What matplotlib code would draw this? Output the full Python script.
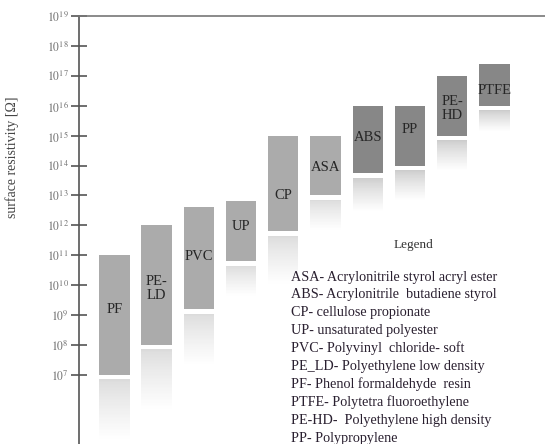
import numpy as np
import matplotlib
matplotlib.use("Agg")
import matplotlib.pyplot as plt
from matplotlib.ticker import FixedLocator, FuncFormatter, NullLocator

# ---- data (exponents of surface resistivity in Ohm) ----
materials = ["PF", "PE-LD", "PVC", "UP", "CP", "ASA", "ABS", "PP", "PE-HD", "PTFE"]
bar_labels = ["PF", "PE-\nLD", "PVC", "UP", "CP", "ASA", "ABS", "PP", "PE-\nHD", "PTFE"]
low_exp = [7.0, 8.0, 9.2, 10.8, 11.8, 13.0, 13.75, 14.0, 15.0, 16.0]
high_exp = [11.0, 12.0, 12.6, 12.8, 15.0, 15.0, 16.0, 16.0, 17.0, 17.4]
label_exp = [9.2, 9.9, 10.95, 11.95, 13.0, 13.95, 14.95, 15.2, 15.9, 16.5]
dark = [False, False, False, False, False, False, True, True, True, True]
tick_exps = list(range(7, 20))
legend_title = "Legend"
legend_lines = [
    "ASA- Acrylonitrile styrol acryl ester",
    "ABS- Acrylonitrile  butadiene styrol",
    "CP- cellulose propionate",
    "UP- unsaturated polyester",
    "PVC- Polyvinyl  chloride- soft",
    "PE_LD- Polyethylene low density",
    "PF- Phenol formaldehyde  resin",
    "PTFE- Polytetra fluoroethylene",
    "PE-HD-  Polyethylene high density",
    "PP- Polypropylene",
]

plt.rcParams["font.family"] = ["Liberation Serif", "DejaVu Serif"]
plt.rcParams["mathtext.fontset"] = "stix"

W, H = 545, 444
fig = plt.figure(figsize=(W / 100, H / 100), dpi=100)
ax = fig.add_axes([79 / W, 0.0, 1 - 79 / W, 1 - 16 / H])
ax.set_yscale("log")
ax.set_ylim(10 ** 4.69, 1e19)
ax.set_xlim(-0.84, 10.2)

x = np.arange(len(materials))
width = 0.72
light_c = "#ababab"
dark_c = "#878787"

for i in range(len(materials)):
    lo, hi = low_exp[i], high_exp[i]
    col = dark_c if dark[i] else light_c
    ax.bar(x[i], 10 ** hi - 10 ** lo, bottom=10 ** lo, width=width,
           color=col, edgecolor="none", zorder=3)
    # fading reflection below the bar
    span = hi - lo
    gap = 0.15
    refl = 0.5 * span
    n = 40
    top = lo - gap
    base_rgb = np.array([0.86, 0.86, 0.86]) if not dark[i] else np.array([0.80, 0.80, 0.80])
    for k in range(n):
        t0 = top - refl * k / n
        t1 = top - refl * (k + 1) / n
        f = k / n
        c = base_rgb + (1 - base_rgb) * f ** 0.8
        ax.bar(x[i], 10 ** t0 - 10 ** t1, bottom=10 ** t1, width=width,
               color=tuple(c), edgecolor="none", zorder=2)
    ax.text(x[i], 10 ** label_exp[i], bar_labels[i], ha="center", va="center",
            fontsize=10.5, color="#262626", zorder=4, linespacing=1.1)

# axes styling
for s in ["right", "bottom"]:
    ax.spines[s].set_visible(False)
ax.spines["left"].set_color("#555555")
ax.spines["top"].set_color("#777777")
ax.spines["left"].set_linewidth(1.2)
ax.spines["top"].set_linewidth(1.2)
ax.xaxis.set_major_locator(NullLocator())
ax.yaxis.set_major_locator(FixedLocator([10.0 ** e for e in tick_exps]))
ax.yaxis.set_minor_locator(NullLocator())
ax.yaxis.set_major_formatter(FuncFormatter(lambda v, p: r"$10^{%d}$" % round(np.log10(v))))
ax.tick_params(axis="y", direction="inout", length=11, width=1.2, color="#555555",
               labelsize=8.5, labelcolor="#707070", pad=2)

ax.set_ylabel("surface resistivity [Ω]", fontsize=10, color="#444444")
ax.yaxis.set_label_coords(-0.128, 0.67)

# legend text block
fig.text(413 / W, 1 - 245 / H, legend_title,
         ha="center", va="center", fontsize=9.5, color="#333333")
for j, line in enumerate(legend_lines):
    y_px = 277 + j * 17.9
    fig.text(291 / W, 1 - y_px / H, line, ha="left", va="center",
             fontsize=10.2, color="#2a2030")

fig.savefig("out.png", dpi=100)
